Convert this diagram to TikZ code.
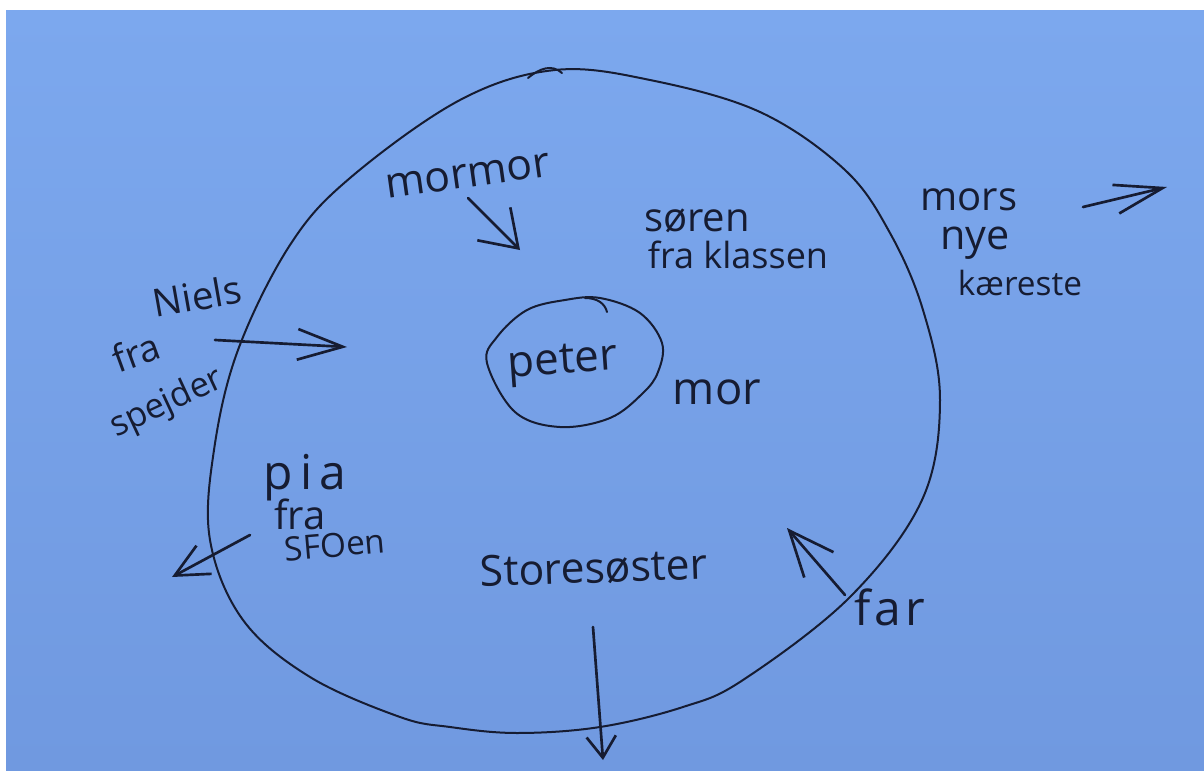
\documentclass[tikz,border=0pt]{standalone}
\usepackage{fontspec}
\setmainfont{Open Sans}
\usetikzlibrary{arrows.meta}
\definecolor{paper}{RGB}{124,168,238}
\definecolor{paperlow}{RGB}{112,153,224}
\definecolor{ink}{RGB}{22,28,50}
\begin{document}
\begin{tikzpicture}[x=0.75pt,y=-0.75pt,
  hand/.style={text=ink, inner sep=0pt, font=\fontsize{#1}{#1}\selectfont},
  hand/.default=30,
  pen/.style={draw=ink, line width=1.5pt, line cap=round, line join=round},
  harrow/.style 2 args={draw=ink, line width=2pt, line cap=round, line join=round,
     -{Straight Barb[length=#1pt, width=#2pt, line width=2pt]}}]
\useasboundingbox (0,0) rectangle (1204,771);
\fill[white] (0,0) rectangle (1204,771);
\shade[top color=paper, bottom color=paperlow] (6,10) rectangle (1204,771);

% outer circle
\draw[pen] plot[smooth cycle, tension=0.6] coordinates {
 (555,70) (650,80) (760,112) (845,170) (890,233) (923,310) (940,400)
 (922,500) (850,597) (743,680) (683,707) (600,727) (517,733) (450,727)
 (400,717) (310,677) (243,620) (210,540) (214,450) (238,350) (290,245)
 (350,178) (460,100)};
\draw[pen] (528,78) .. controls (540,68) and (552,64) .. (562,73);

% inner circle
\draw[pen] plot[smooth cycle, tension=0.6] coordinates {
 (600,298) (640,313) (662,343) (658,372) (643,393) (610,418) (560,427)
 (515,412) (487,363) (497,337) (527,310) (565,300)};
\draw[pen] (585,298) .. controls (598,298) and (605,304) .. (607,312);

% texts
\node[hand=33] (peter) at (563,364) [rotate=4] {peter};
\node[hand=32] (mormor) at (468,176) [rotate=8] {mormor};
\node[hand=30] (soren) at (697,221) {søren};
\node[hand=27] (klassen) at (738,255) {fra klassen};
\node[hand=30] (mors) at (969,200) {mors};
\node[hand=31] (nye) at (975,243) {nye};
\node[hand=25] (kaereste) at (1020,283) {kæreste};
\node[hand=29] (niels) at (197,296) [rotate=10] {Niels};
\node[hand=28] (fra1) at (136,352) [rotate=20] {fra};
\node[hand=26] (spejder) at (167,404) [rotate=25] {spejder};
\node[hand=34] (mor) at (717,392) {mor};
\node[hand=36] (pia) at (305,478) {\addfontfeatures{LetterSpace=15}pia};
\node[hand=30] (fra2) at (300,514) {fra};
\node[hand=25] (sfo) at (335,545) [rotate=5] {SFOen};
\node[hand=32] (store) at (594,568) [rotate=2] {Storesøster};
\node[hand=36] (far) at (890,607) {\addfontfeatures{LetterSpace=8}far};

% arrow end points
\coordinate (a1s) at (468,198); \coordinate (a1t) at (520,250);
\coordinate (a2s) at (215,340); \coordinate (a2t) at (347,347);
\coordinate (a3s) at (1083,207); \coordinate (a3t) at (1167,187);
\coordinate (a4s) at (250,535); \coordinate (a4t) at (172,577);
\coordinate (a5s) at (593,627); \coordinate (a5t) at (603,760);
\coordinate (a6s) at (845,595); \coordinate (a6t) at (787,528);

\draw[harrow={26}{35}] (a1s) -- (a1t);
\draw[harrow={34}{23}] (a2s) -- (a2t);
\draw[harrow={36}{22}] (a3s) -- (a3t);
\draw[harrow={25}{24}] (a4s) -- (a4t);
\draw[harrow={16}{22}] (a5s) -- (a5t);
\draw[harrow={34}{29}] (a6s) -- (a6t);
\end{tikzpicture}
\end{document}
